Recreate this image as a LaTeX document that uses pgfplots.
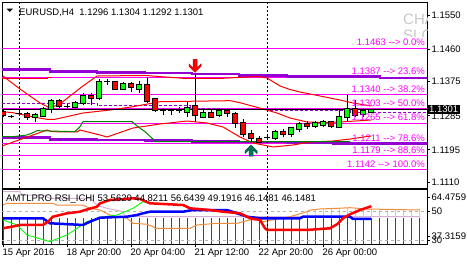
\documentclass[border=0pt]{standalone}
\usepackage{pgfplots}
\pgfplotsset{compat=1.18}
\usepackage{pgfplotstable}
\usepackage{fontspec}
\setmainfont{Liberation Sans}
\newcommand\lab{\fontsize{9bp}{10bp}\selectfont}
\newcommand\tlab{\fontsize{9.5bp}{10bp}\selectfont}
\definecolor{fib}{RGB}{255,0,255}
\definecolor{dviolet}{RGB}{148,0,211}
\definecolor{cgreen}{RGB}{0,255,0}
\definecolor{cred}{RGB}{255,0,0}
\definecolor{dred}{RGB}{190,0,0}
\definecolor{lgreen}{RGB}{0,128,0}
\definecolor{orng}{RGB}{240,140,60}
\definecolor{lilac}{RGB}{215,175,215}
\definecolor{histg}{RGB}{70,70,70}
\definecolor{arrg}{RGB}{0,120,90}
\definecolor{arrgd}{RGB}{0,80,50}
\definecolor{lightc}{RGB}{235,195,175}
\definecolor{wm}{RGB}{200,200,200}

\pgfdeclareplotmark{dnarrow}{%
\pgfpathmoveto{\pgfpoint{0bp}{0bp}}%
\pgfpathlineto{\pgfpoint{-6bp}{6bp}}%
\pgfpathlineto{\pgfpoint{-6bp}{8.5bp}}%
\pgfpathlineto{\pgfpoint{-2bp}{4.5bp}}%
\pgfpathlineto{\pgfpoint{-2bp}{13bp}}%
\pgfpathlineto{\pgfpoint{2bp}{13bp}}%
\pgfpathlineto{\pgfpoint{2bp}{4.5bp}}%
\pgfpathlineto{\pgfpoint{6bp}{8.5bp}}%
\pgfpathlineto{\pgfpoint{6bp}{6bp}}%
\pgfpathclose
\pgfusepathqfillstroke}
\pgfdeclareplotmark{uparrow}{%
\pgfpathmoveto{\pgfpoint{0bp}{0bp}}%
\pgfpathlineto{\pgfpoint{-6bp}{-6bp}}%
\pgfpathlineto{\pgfpoint{-6bp}{-8.5bp}}%
\pgfpathlineto{\pgfpoint{-2bp}{-4.5bp}}%
\pgfpathlineto{\pgfpoint{-2bp}{-11bp}}%
\pgfpathlineto{\pgfpoint{2bp}{-11bp}}%
\pgfpathlineto{\pgfpoint{2bp}{-4.5bp}}%
\pgfpathlineto{\pgfpoint{6bp}{-8.5bp}}%
\pgfpathlineto{\pgfpoint{6bp}{-6bp}}%
\pgfpathclose
\pgfusepathqfillstroke}

\pgfplotstableread{
i h l t b
4 1.12915 1.12694 1.12871 1.12818
5 1.13090 1.12810 1.13029 1.12844
6 1.13293 1.12931 1.13240 1.13029
9 1.13248 1.13002 1.13187 1.13082
10 1.13443 1.13134 1.13372 1.13187
12 1.13812 1.13266 1.13741 1.13319
15 1.13741 1.13530 1.13688 1.13556
17 1.13775 1.13443 1.13662 1.13556
23 1.13221 1.12826 1.13063 1.12958
25 1.13002 1.12784 1.12931 1.12826
27 1.13047 1.12826 1.12984 1.12871
34 1.12475 1.12211 1.12430 1.12256
36 1.12554 1.12282 1.12520 1.12369
37 1.12694 1.12430 1.12633 1.12501
39 1.12720 1.12520 1.12652 1.12580
40 1.12738 1.12562 1.12694 1.12607
42 1.13002 1.12520 1.12810 1.12562
43 1.13398 1.12694 1.13021 1.12810
45 1.13047 1.12826 1.12984 1.12897
46 1.13040 1.12920 1.13010 1.12960
}\greenc

\pgfplotstableread{
i h l t b
0 1.13002 1.12826 1.12958 1.12871
3 1.12950 1.12738 1.12897 1.12818
7 1.13293 1.13047 1.13240 1.13108
11 1.13443 1.13134 1.13372 1.13319
14 1.13775 1.13530 1.13741 1.13556
16 1.13749 1.13485 1.13688 1.13609
18 1.13881 1.13179 1.13662 1.13248
19 1.13319 1.12958 1.13285 1.13002
24 1.13979 1.12694 1.13108 1.12871
26 1.13002 1.12784 1.12915 1.12826
28 1.13047 1.12826 1.12984 1.12915
29 1.12950 1.12520 1.12897 1.12652
30 1.12757 1.12298 1.12668 1.12369
31 1.12475 1.12166 1.12369 1.12264
32 1.12317 1.12124 1.12237 1.12166
35 1.12493 1.12298 1.12430 1.12369
38 1.12712 1.12501 1.12633 1.12580
41 1.12720 1.12520 1.12694 1.12580
44 1.13266 1.12810 1.13021 1.12871
}\redc

\pgfplotstableread{
i h l c
1 1.12871 1.12784 1.12826
2 1.12976 1.12871 1.12923
8 1.13153 1.13021 1.13090
13 1.13812 1.13662 1.13741
20 1.13047 1.12871 1.12984
21 1.13047 1.12871 1.12984
22 1.13090 1.12915 1.12984
33 1.12369 1.12211 1.12290
}\dojic

\pgfplotstableread{
i o
38 49.5
39 51.0
40 51.4
41 51.7
42 51.9
43 52.2
44 52.0
45 51.6
46 51.3
47 51.2
48 51.1
49 51.0
50 50.9
51 50.8
52 50.7
}\lightl

\begin{document}
\begin{tikzpicture}
\useasboundingbox (0bp,0bp) rectangle (467bp,-265bp);

% ---------------- main price panel ----------------
\begin{axis}[
 at={(2bp,-188bp)}, anchor=south west, scale only axis,
 width=425bp, height=186bp,
 xmin=-0.125, xmax=53, ymin=1.10945, ymax=1.15851,
 axis line style={line width=0.8bp},
 xtick=\empty,
 ytick={1.1110,1.1195,1.1285,1.1375,1.1460,1.1550},
 yticklabels={1.1110,1.1195,1.1285,1.1375,1.1460,1.1550},
 scaled y ticks=false,
 ytick pos=right, yticklabel pos=right,
 tick align=outside, major tick length=3bp,
 tick style={black, line width=0.8bp},
 yticklabel style={font=\tlab, inner xsep=1.5bp},
]
% watermark
\node[anchor=north west, text=wm, font=\fontsize{15bp}{15bp}\selectfont, inner sep=0pt] at (axis cs:50,1.15535) {CHA};
\pgfplotsextra{\begin{scope}\clip (axis cs:49,1.15113) rectangle (axis cs:53,1.14928);
\node[anchor=north west, text=wm, font=\fontsize{15bp}{15bp}\selectfont, inner sep=0pt] at (axis cs:50,1.15113) {SLO};\end{scope}}
% fibonacci levels
\pgfplotsinvokeforeach{1.1463,1.1387,1.1340,1.1303,1.1265,1.1211,1.1179,1.1142}{
 \addplot[fib, line width=1bp] coordinates {(-1,#1) (54,#1)};
}
% purple thick lines
\addplot[dviolet, line width=2.5bp, const plot mark left] coordinates {
(-0.125,1.14071) (5.875,1.14018) (11.75,1.13992) (17.75,1.13979) (23.625,1.13947) (29.5,1.13913) (35.5,1.13881) (47.125,1.13852) (53,1.13852)};
\addplot[dviolet, line width=2.5bp, const plot mark left] coordinates {
(-0.125,1.12277) (5.875,1.12230) (11.75,1.12211) (17.75,1.12198) (23.625,1.12177) (29.5,1.12158) (35.5,1.12145) (41.25,1.12124) (53,1.12124)};
% purple dashed
\addplot[dviolet, line width=1bp, dash pattern=on 3bp off 2bp, const plot mark left] coordinates {
(-0.125,1.13179) (11.75,1.13108) (23.375,1.13047) (27.125,1.13021) (33,1.12995) (43.375,1.12942) (53,1.12942)};
% red lines
\addplot[cred, line width=1bp, const plot mark left] coordinates {(-0.125,1.13820) (5.5,1.13860) (6.125,1.13860)};
\addplot[cred, line width=1bp] coordinates {
(0,1.13899) (2.125,1.13556) (4.625,1.13187) (5.875,1.13055) (7.125,1.13161) (8.375,1.13372) (10,1.13636) (11.75,1.13899) (17.75,1.13913) (22.5,1.13839) (27.5,1.13839) (31.875,1.13886) (33,1.13847) (34.625,1.13636) (35.875,1.13543) (37.125,1.13477) (39.625,1.13372) (42.125,1.13266) (43.75,1.13187) (46,1.13108)};
\addplot[cred, line width=1bp] coordinates {
(-0.125,1.12958) (1.25,1.12931) (3.75,1.12818) (5.5,1.12757) (6.5,1.12757) (10,1.12923) (13.375,1.13002) (16.25,1.13090) (19.625,1.13221) (28.375,1.13248) (29.625,1.13195) (32.5,1.13029) (34.25,1.12923) (35.875,1.12791) (38,1.12686) (39.625,1.12673) (42.125,1.12686) (46,1.12738)};
\addplot[cred, line width=1bp] coordinates {
(-0.125,1.12053) (3.75,1.12343) (5.5,1.12475) (6.125,1.12430) (9.25,1.12422) (9.625,1.12475) (12.125,1.12343) (13,1.12290) (16.25,1.12527) (19.625,1.12633) (23,1.12712) (25.5,1.12659) (27.5,1.12554) (29.625,1.12290) (31.25,1.12132) (33.75,1.12027) (36.25,1.12079) (38.375,1.12158) (41.25,1.12185) (43.375,1.12237) (46,1.12317)};
% green line
\addplot[lgreen, line width=1bp] coordinates {
(-0.125,1.12298) (1.25,1.12298) (3,1.12343) (3.75,1.12404) (4.25,1.12457) (9,1.12430) (9.625,1.12562) (10,1.12694) (16.125,1.12694) (16.875,1.12562) (17.75,1.12430) (18.75,1.12237) (19,1.12166) (43.375,1.12166)};
% current price line
\addplot[black, line width=0.8bp] coordinates {(-1,1.1301) (54,1.1301)};
% vertical dashed separators
\addplot[black, line width=0.8bp, dash pattern=on 2bp off 2bp] coordinates {(2,1.10) (2,1.16)};
\addplot[black, line width=0.8bp, dash pattern=on 2bp off 2bp] coordinates {(33,1.10) (33,1.16)};
% wicks
\addplot[draw=none, mark=none, error bars/.cd, y dir=both, y explicit, error mark=none,
 error bar style={draw=black, line width=1bp, solid}]
 table[x=i, y=h, y error plus expr=0, y error minus expr=\thisrow{h}-\thisrow{l}] {\greenc};
\addplot[draw=none, mark=none, error bars/.cd, y dir=both, y explicit, error mark=none,
 error bar style={draw=black, line width=1bp, solid}]
 table[x=i, y=h, y error plus expr=0, y error minus expr=\thisrow{h}-\thisrow{l}] {\redc};
\addplot[draw=none, mark=none, error bars/.cd, y dir=both, y explicit, error mark=none,
 error bar style={draw=black, line width=1bp, solid}]
 table[x=i, y=h, y error plus expr=0, y error minus expr=\thisrow{h}-\thisrow{l}] {\dojic};
% bodies: border
\addplot[draw=none, mark=none, error bars/.cd, y dir=both, y explicit, error mark=none,
 error bar style={draw=black, line width=6bp, solid}]
 table[x=i, y=t, y error plus expr=0.00026, y error minus expr=\thisrow{t}-\thisrow{b}+0.00026] {\greenc};
\addplot[draw=none, mark=none, error bars/.cd, y dir=both, y explicit, error mark=none,
 error bar style={draw=black, line width=6bp, solid}]
 table[x=i, y=t, y error plus expr=0.00026, y error minus expr=\thisrow{t}-\thisrow{b}+0.00026] {\redc};
% bodies: fill
\addplot[draw=none, mark=none, error bars/.cd, y dir=both, y explicit, error mark=none,
 error bar style={draw=cgreen, line width=4bp, solid}]
 table[x=i, y=t, y error plus expr=0, y error minus expr=\thisrow{t}-\thisrow{b}] {\greenc};
\addplot[draw=none, mark=none, error bars/.cd, y dir=both, y explicit, error mark=none,
 error bar style={draw=cred, line width=4bp, solid}]
 table[x=i, y=t, y error plus expr=0, y error minus expr=\thisrow{t}-\thisrow{b}] {\redc};
% doji
\addplot[only marks, mark=-, mark size=3bp, mark options={draw=black, line width=1bp}] table[x=i, y=c] {\dojic};
% signal arrows
\addplot[only marks, mark=dnarrow, mark options={fill=cred, draw=dred, line width=0.5bp}] coordinates {(24,1.13995)};
\addplot[only marks, mark=uparrow, mark options={fill=arrg, draw=arrgd, line width=0.5bp}] coordinates {(31,1.12079)};
% fib labels
\node[anchor=base east, yshift=2.5bp, text=fib, font=\tlab, inner sep=0pt] at (axis cs:52.75,1.1463) {1.1463 -{}-{}> 0.0\%};
\node[anchor=base east, yshift=2.5bp, text=fib, font=\tlab, inner sep=0pt] at (axis cs:52.75,1.1387) {1.1387 -{}-{}> 23.6\%};
\node[anchor=base east, yshift=2.5bp, text=fib, font=\tlab, inner sep=0pt] at (axis cs:52.75,1.1340) {1.1340 -{}-{}> 38.2\%};
\node[anchor=base east, yshift=2.5bp, text=fib, font=\tlab, inner sep=0pt] at (axis cs:52.75,1.1303) {1.1303 -{}-{}> 50.0\%};
\node[anchor=base east, yshift=2.5bp, text=fib, font=\tlab, inner sep=0pt] at (axis cs:52.75,1.1265) {1.1265 -{}-{}> 61.8\%};
\node[anchor=base east, yshift=2.5bp, text=fib, font=\tlab, inner sep=0pt] at (axis cs:52.75,1.1211) {1.1211 -{}-{}> 78.6\%};
\node[anchor=base east, yshift=2.5bp, text=fib, font=\tlab, inner sep=0pt] at (axis cs:52.75,1.1179) {1.1179 -{}-{}> 88.6\%};
\node[anchor=base east, yshift=2.5bp, text=fib, font=\tlab, inner sep=0pt] at (axis cs:52.75,1.1142) {1.1142 -{}-{}> 100.0\%};
\coordinate (pricept) at (axis cs:53,1.1301);
\end{axis}

% ---------------- indicator panel ----------------
\begin{axis}[
 at={(2bp,-244bp)}, anchor=south west, scale only axis,
 width=425bp, height=55bp,
 xmin=-0.125, xmax=53, ymin=27.2, ymax=65.2,
 axis line style={line width=0.8bp},
 xtick={0,8,16,24,32,40},
 xticklabels={15 Apr 2016,18 Apr 20:00,20 Apr 04:00,21 Apr 12:00,22 Apr 20:00,26 Apr 00:00},
 xtick pos=bottom,
 xticklabel style={font=\tlab, anchor=north west, inner xsep=0pt, inner ysep=1.5bp, xshift=-0.5bp},
 ytick={30,32.3,49.5,59.66},
 yticklabels={30,37.3159,50,64.4759},
 ytick pos=right, yticklabel pos=right,
 yticklabel style={font=\tlab, inner xsep=1.5bp},
 tick align=outside, major tick length=3bp,
 tick style={black, line width=0.8bp},
]
\addplot[ycomb, histg, line width=0.9bp] coordinates {
(0,45.5) (1,45.5) (2,45.5) (3,45.5) (4,45.5) (5,45.5) (6,45.5) (7,45.5) (8,45.5) (9,45.5)
(10,45.5) (11,45.5) (12,45.5) (13,45.5) (14,45.5) (15,45.5) (16,45.5) (17,45.5) (18,45.5) (19,45.5)
(20,45.5) (21,45.5) (22,45.5) (23,45.5) (24,45.5) (25,45.5) (26,45.5) (27,45.5) (28,45.5) (29,45.5)
(30,45.5) (31,45.5) (32,45.5) (33,45.5) (34,45.5) (35,45.5) (36,45.5) (37,45.5) (38,45.5) (39,45.5)
(40,45.5) (41,45.5) (42,45.5) (43,45.5) (44,45.5) (45,45.5) (46,45.5) (47,45.5) (48,45.5) (49,45.5)
(50,45.5) (51,45.5) (52,45.5)};
\addplot[draw=none, mark=none, error bars/.cd, y dir=both, y explicit, error mark=none,
 error bar style={draw=lightc, line width=0.9bp, solid}]
 table[x=i, y=o, y error plus expr=0, y error minus expr=\thisrow{o}-46.15] {\lightl};
\addplot[gray!60, line width=0.8bp, dash pattern=on 3bp off 3bp] coordinates {(-1,50) (54,50)};
\addplot[gray!60, line width=0.8bp, dash pattern=on 3bp off 3bp] coordinates {(-1,30) (54,30)};
% lilac
\addplot[lilac, line width=1bp] coordinates {
(0,63.31) (2.125,63.31) (2.375,61.03) (5,61.03) (5.875,58.76) (10.875,58.76) (11.75,54.14) (13,51.86) (15,49.52) (15.25,46.15) (52.125,46.15)};
% orange
\addplot[orng, line width=1bp] coordinates {
(0,54.14) (0.5,55.31) (6.25,55.31) (6.75,54.14) (10,54.14) (10.875,51.86) (12.125,50.69) (13.375,47.24) (15.5,44.97) (16.25,41.52) (18,40.83) (18.75,39.17) (19,38.07) (23.375,38.07) (24.25,40.34) (26.75,41.52) (29.25,41.52) (30.875,43.79) (32.125,43.79) (32.5,42.62) (35.875,46.07) (38,49.52) (38.375,50.69) (39.625,51.38) (41.75,51.86) (43.375,52.28) (45.5,51.38) (52.125,50.69)};
% green
\addplot[cgreen, line width=0.9bp] coordinates {
(0,43.79) (1.75,40.34) (3,33.45) (5.875,28.83) (8,33.45) (10.5,42.62) (12.5,46.07) (14.25,47.24) (16.25,51.86) (17.5,56.41) (18.375,55.31) (19,55.0)};
% blue
\addplot[blue, line width=2.5bp] coordinates {
(0,44.97) (5,44.97) (5.875,41.52) (10,40.34) (10.875,42.62) (12.125,45.38) (15.5,46.07) (16.75,47.24) (17.5,48.41) (18.375,49.52) (22.5,49.52) (23.75,50.69) (28,50.69) (29.25,48.41) (30.5,46.07) (32.125,44.97) (37.125,44.97) (37.5,46.07) (43.375,46.07) (43.75,44.48) (46,44.48)};
% red
\addplot[cred, line width=2.5bp] coordinates {
(0,38.07) (1.125,39.17) (2.125,40.34) (5,40.34) (5.625,42.62) (6.25,46.07) (8,48.41) (9.625,49.52) (10.25,50.69) (11.75,52.97) (12.125,55.31) (13.375,57.59) (16.25,58.76) (17.125,58.3) (18.375,55.31) (22.5,54.14) (23.375,51.86) (25.875,50.69) (27.5,49.52) (29.625,48.41) (30.5,46.07) (30.875,44.97) (32.125,43.79) (32.75,38.07) (33,36.9) (38,36.9) (40.875,38.07) (41.75,40.83) (42.5,44.97) (43.375,47.72) (44.625,50.69) (45.875,52.97) (46,53.56)};
\addplot[black, line width=0.8bp, dash pattern=on 2bp off 2bp] coordinates {(33,20) (33,70)};
\end{axis}

% price tag, titles
\node[anchor=west, fill=black, text=white, font=\tlab, inner xsep=1.5bp, inner ysep=1.2bp, xshift=0.5bp] at (pricept) {1.1301};
\fill (6.5bp,-8.5bp) -- (13bp,-8.5bp) -- (9.75bp,-12bp) -- cycle;
\node[anchor=base west, font=\tlab, inner sep=0pt] at (19bp,-15bp) {EURUSD,H4\ \ 1.1296 1.1304 1.1292 1.1301};
\node[anchor=base west, font=\tlab, inner sep=0pt] at (6bp,-201.5bp) {AMTLPRO RSI\_ICHI 53.5620 44.8211 56.6439 49.1916 46.1481 46.1481};
\end{tikzpicture}
\end{document}
